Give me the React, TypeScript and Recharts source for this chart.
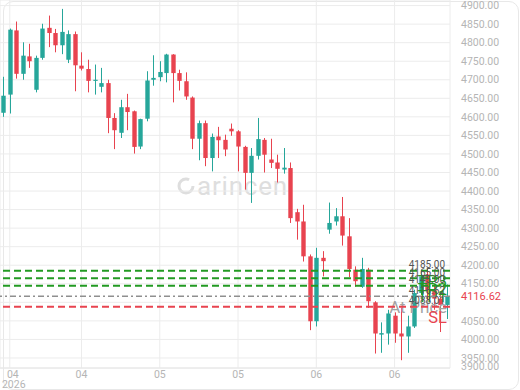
import React from "react";
import {
  ComposedChart,
  Bar,
  XAxis,
  YAxis,
  CartesianGrid,
  ReferenceLine,
} from "recharts";

// daily candles
const opens = [
  4611, 4660, 4833, 4716, 4763, 4673, 4759, 4840, 4826, 4793,
  4754, 4823, 4738, 4729, 4697, 4681, 4691, 4597, 4557, 4626,
  4615, 4520, 4595, 4700, 4707, 4718, 4768, 4718, 4696, 4652,
  4541, 4583, 4489, 4547, 4538, 4568, 4561, 4519, 4449, 4495,
  4538, 4485, 4477, 4458, 4462, 4343, 4318, 4224, 4049, 4220,
  4296, 4318, 4332, 4278, 4188, 4142, 4188, 4100, 4013, 4016,
  4064, 4016, 4008, 4035, 4125, 4175, 4133, 4110, 4093,
];
const highs = [
  4708, 4838, 4857, 4801, 4797, 4765, 4851, 4873, 4837, 4891,
  4833, 4830, 4774, 4754, 4741, 4732, 4700, 4610, 4646, 4662,
  4617, 4595, 4723, 4766, 4750, 4770, 4769, 4727, 4720, 4655,
  4590, 4590, 4555, 4573, 4552, 4582, 4564, 4522, 4516, 4597,
  4543, 4541, 4498, 4516, 4477, 4352, 4363, 4229, 4247, 4238,
  4369, 4354, 4384, 4327, 4197, 4220, 4193, 4103, 4046, 4080,
  4073, 4085, 4064, 4134, 4186, 4190, 4150, 4125, 4148,
];
const lows = [
  4600, 4609, 4703, 4700, 4732, 4666, 4754, 4788, 4774, 4769,
  4745, 4669, 4725, 4666, 4660, 4666, 4556, 4513, 4543, 4564,
  4501, 4513, 4588, 4684, 4696, 4693, 4639, 4671, 4646, 4513,
  4483, 4467, 4453, 4489, 4494, 4549, 4453, 4404, 4368, 4485,
  4450, 4462, 4423, 4447, 4314, 4269, 4210, 4025, 4035, 4170,
  4285, 4307, 4253, 4168, 4142, 4139, 4085, 3962, 3964, 3986,
  3991, 3944, 3964, 4031, 4120, 4105, 4080, 4020, 4055,
];
const closes = [
  4657, 4835, 4716, 4765, 4750, 4759, 4838, 4826, 4793, 4829,
  4823, 4739, 4730, 4697, 4700, 4691, 4597, 4564, 4626, 4613,
  4519, 4594, 4698, 4705, 4721, 4768, 4718, 4697, 4655, 4541,
  4583, 4489, 4546, 4537, 4512, 4561, 4520, 4449, 4495, 4540,
  4498, 4476, 4460, 4463, 4327, 4318, 4224, 4049, 4220, 4211,
  4314, 4332, 4280, 4190, 4157, 4190, 4103, 4016, 4017, 4070,
  4016, 4008, 4035, 4125, 4170, 4133, 4110, 4093, 4116.62,
];

const tickIndex = [1, 12, 24, 36, 48, 60];
const tickText = ["04", "04", "05", "05", "06", "06"];
const yearLabel = "2026";

const priceTicks = [
  3950, 4000, 4050, 4100, 4150, 4200, 4250, 4300, 4350, 4400, 4450,
  4500, 4550, 4600, 4650, 4700, 4750, 4800, 4850, 4900,
];
const yDomain = [3923, 4915];
const axisFloor = 3900;
const lastPrice = 4116.62;

const levelNames = ["TP3", "TP2", "TP1", "At Price", "SL"];
const levelValues = [4185, 4165, 4145, 4116.62, 4088.01];
const levelKinds = ["tp", "tp", "tp", "entry", "sl"];

const UP = "#26a69a";
const DOWN = "#e8434f";
const AXIS_TEXT = "#b5b5b5";
const GRID = "#ececec";

const levelStyle: Record<string, { stroke: string; label: string; dash: string; width: number }> = {
  tp: { stroke: "#229a22", label: "#229a22", dash: "7 4", width: 2 },
  entry: { stroke: "#8f8f8f", label: "#a3a3a3", dash: "6 3 2 3", width: 1.5 },
  sl: { stroke: "#e8434f", label: "#e8434f", dash: "7 4", width: 2 },
};

const data = opens.map((o, i) => ({
  i,
  open: o,
  high: highs[i],
  low: lows[i],
  close: closes[i],
}));

const Candle = (props: any) => {
  const { x, y, width, height, payload } = props;
  const { open, close, high, low } = payload;
  const color = close >= open ? UP : DOWN;
  const top = Math.min(y, y + height);
  const h = Math.abs(height);
  const k = h / (high - low);
  const bodyTop = top + (high - Math.max(open, close)) * k;
  const bodyBottom = top + (high - Math.min(open, close)) * k;
  const cx = Math.round(x + width / 2) + 0.5;
  return (
    <g>
      <line x1={cx} x2={cx} y1={top} y2={top + h} stroke={color} strokeWidth={1} />
      <rect
        x={cx - width / 2}
        y={bodyTop}
        width={width}
        height={Math.max(1, bodyBottom - bodyTop)}
        fill={color}
      />
    </g>
  );
};

const PriceTick = (props: any) => {
  const { x, y, payload } = props;
  if (Math.abs(payload.value - lastPrice) < 20) return null;
  return (
    <text x={x} y={y} dy="0.35em" textAnchor="start" fontSize={10.5} fill={AXIS_TEXT}>
      {payload.value.toFixed(2)}
    </text>
  );
};

const DateTick = (props: any) => {
  const { x, y, payload, index } = props;
  const label = tickText[tickIndex.indexOf(payload.value)];
  return (
    <g>
      <text x={x + (index === 0 ? 3 : 0)} y={y} dy="0.71em" textAnchor="middle" fontSize={10.5} fill={AXIS_TEXT}>
        {label}
      </text>
      {index === 0 && (
        <text x={x + 4} y={y + 10} dy="0.71em" textAnchor="middle" fontSize={10.5} fill={AXIS_TEXT}>
          {yearLabel}
        </text>
      )}
    </g>
  );
};

const LevelLabel = ({ viewBox, name, value, color }: any) => {
  const right = viewBox.x + viewBox.width;
  const y = viewBox.y;
  return (
    <g>
      <text x={right - 5} y={y - 2.5} textAnchor="end" fontSize={10} fill="#555">
        {value.toFixed(2)}
      </text>
      <text x={right - 3} y={y + 16.5} textAnchor="end" fontSize={16.5} fill={color}>
        {name}
      </text>
    </g>
  );
};

const LastPriceLabel = ({ viewBox }: any) => {
  const x = viewBox.x + viewBox.width + 11;
  return (
    <text x={x} y={viewBox.y} dy="0.35em" fontSize={11} fill={DOWN}>
      {lastPrice.toFixed(2)}
    </text>
  );
};

const FloorLabel = ({ viewBox }: any) => (
  <text
    x={viewBox.x + viewBox.width + 11}
    y={viewBox.y - 1.5}
    dy="0.35em"
    fontSize={10.5}
    fill={AXIS_TEXT}
  >
    {axisFloor.toFixed(2)}
  </text>
);

export default function App() {
  return (
    <div
      style={{
        position: "absolute",
        left: 0,
        top: 0,
        width: 520,
        height: 390,
        background: "#fff",
        fontFamily: "Roboto, sans-serif",
        overflow: "hidden",
      }}
    >
      <div
        style={{
          position: "absolute",
          left: 3,
          top: 1,
          width: 516,
          height: 389,
          boxSizing: "border-box",
          border: "1px solid #e8e8e8",
          borderRadius: 10,
        }}
      />
      {/* watermark */}
      <div
        style={{
          position: "absolute",
          left: 176,
          top: 171,
          display: "flex",
          alignItems: "center",
          color: "#dedede",
          fontSize: 26,
          fontWeight: 400,
          letterSpacing: 0.8,
        }}
      >
        <svg width={20} height={20} style={{ marginRight: 1 }}>
          <circle cx={10} cy={10} r={7} fill="none" stroke="#dedede" strokeWidth={3} strokeDasharray="36 8" />
        </svg>
        arincen
      </div>
      <div style={{ position: "absolute", left: 0, top: 0 }}>
        <ComposedChart
          width={520}
          height={390}
          data={data}
          margin={{ top: 0, right: 0, bottom: 0, left: 0 }}
        >
          <CartesianGrid stroke={GRID} strokeWidth={1} />
          <XAxis
            dataKey="i"
            type="category"
            ticks={tickIndex}
            interval={0}
            height={22}
            tickLine={false}
            tickSize={0}
            tickMargin={3}
            axisLine={{ stroke: "#e6e6e6" }}
            tick={<DateTick />}
          />
          <YAxis
            orientation="right"
            width={70}
            domain={yDomain}
            type="number"
            allowDataOverflow
            ticks={priceTicks}
            interval={0}
            axisLine={false}
            tickLine={false}
            tickSize={6}
            tickMargin={5}
            tick={<PriceTick />}
          />
          <Bar
            dataKey={(d: any) => [d.low, d.high]}
            barSize={4.4}
            shape={<Candle />}
            isAnimationActive={false}
          />
          {levelValues.map((v, idx) => {
            const st = levelStyle[levelKinds[idx]];
            return (
              <ReferenceLine
                key={levelNames[idx]}
                y={v}
                stroke={st.stroke}
                strokeDasharray={st.dash}
                strokeWidth={st.width}
                label={(p: any) => (
                  <LevelLabel viewBox={p.viewBox} name={levelNames[idx]} value={v} color={st.label} />
                )}
              />
            );
          })}
          <ReferenceLine y={lastPrice} stroke="none" label={(p: any) => <LastPriceLabel viewBox={p.viewBox} />} />
          <ReferenceLine y={yDomain[0]} stroke="none" label={(p: any) => <FloorLabel viewBox={p.viewBox} />} />
        </ComposedChart>
      </div>
    </div>
  );
}
